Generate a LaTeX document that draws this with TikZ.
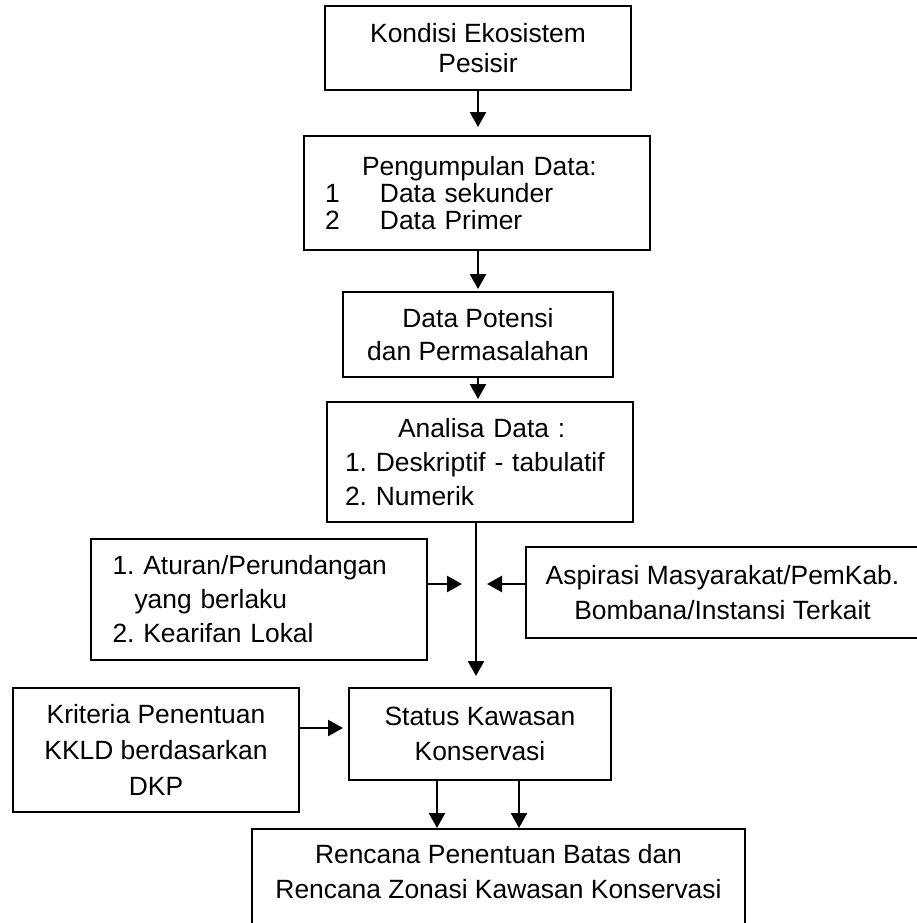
\documentclass[tikz,border=0pt]{standalone}
\usepackage{fontspec}
\setmainfont{Liberation Sans}
\usetikzlibrary{arrows.meta}
\newcommand\fs[1]{\fontsize{13.2pt}{#1}\selectfont\frenchspacing}

\begin{document}
\begin{tikzpicture}[x=0.5pt,y=-0.5pt,
  box/.style={draw,line width=1pt,inner sep=0pt,align=center},
  arr/.style={-{Triangle[length=7.5pt,width=8pt]},line width=1.2pt}]
\clip (0,0) rectangle (917,923);

% main column
\node[box,minimum width=153pt,minimum height=42pt,font=\fs{15pt}] (kondisi) at (478,48) {Kondisi Ekosistem\\Pesisir};
\node[box,minimum width=173pt,minimum height=57pt,text width=152pt,align=left,font=\fs{13.5pt}] (data) at (477,193)
  {\hspace*{18.5pt}Pengumpulan Data:\\\makebox[27.5pt][l]{1}Data sekunder\\\makebox[27.5pt][l]{2}Data Primer};
\node[box,minimum width=135pt,minimum height=42.5pt,font=\fs{16.5pt}] (potensi) at (478,334.5) {Data Potensi\\dan Permasalahan};
\node[box,minimum width=153pt,minimum height=60pt,text width=135pt,align=left,font=\fs{17pt}] (analisa) at (480,462)
  {\hspace*{26.5pt}Analisa Data :\\1. Deskriptif - tabulatif\\2. Numerik};

% side inputs
\node[box,minimum width=168pt,minimum height=60.5pt,text width=146.5pt,align=left,font=\fs{17pt}] (aturan) at (259,599.5)
  {1. Aturan/Perundangan\\\hspace*{11pt}yang berlaku\\2. Kearifan Lokal};
\node[box,minimum width=196.5pt,minimum height=45.5pt,font=\fs{17.5pt}] (aspirasi) at (722.5,592.5) {Aspirasi Masyarakat/PemKab.\\Bombana/Instansi Terkait};
\node[box,minimum width=143pt,minimum height=62pt,font=\fs{18pt}] (kriteria) at (156,750) {Kriteria Penentuan\\KKLD berdasarkan\\DKP};

% result
\node[box,minimum width=131pt,minimum height=46pt,font=\fs{17.5pt}] (status) at (480,734) {Status Kawasan\\Konservasi};
\node[box,minimum width=246.5pt,minimum height=65pt,anchor=north] (rencana) at (498.5,828) {};
\node[align=center,anchor=north,inner sep=0pt,yshift=-8pt,font=\fs{17.5pt}] (rencanatxt) at (rencana.north)
  {Rencana Penentuan Batas dan\\Rencana Zonasi Kawasan Konservasi};

% arrows
\draw[arr,shorten >=4pt] (kondisi.south) -- (kondisi.south |- data.north);
\draw[arr,shorten >=1pt] (data.south -| potensi.north) -- (potensi.north);
\draw[arr,shorten >=1pt] (potensi.south) -- (potensi.south |- analisa.north);
\draw[arr,shorten >=5.5pt] ([xshift=-2pt]analisa.south) -- ([xshift=-2pt]analisa.south |- status.north);

\coordinate (inL) at (462,584);
\coordinate (inR) at (487,584);
\coordinate (inK) at (343,728);
\draw[arr] (aturan.east |- inL) -- (inL);
\draw[arr] (aspirasi.west |- inR) -- (inR);
\draw[arr] (kriteria.east |- inK) -- (inK);

\draw[arr] ([xshift=-21.5pt]status.south) -- ([xshift=-21.5pt]status.south |- rencana.north);
\draw[arr] ([xshift=19.5pt]status.south) -- ([xshift=19.5pt]status.south |- rencana.north);
\end{tikzpicture}
\end{document}
